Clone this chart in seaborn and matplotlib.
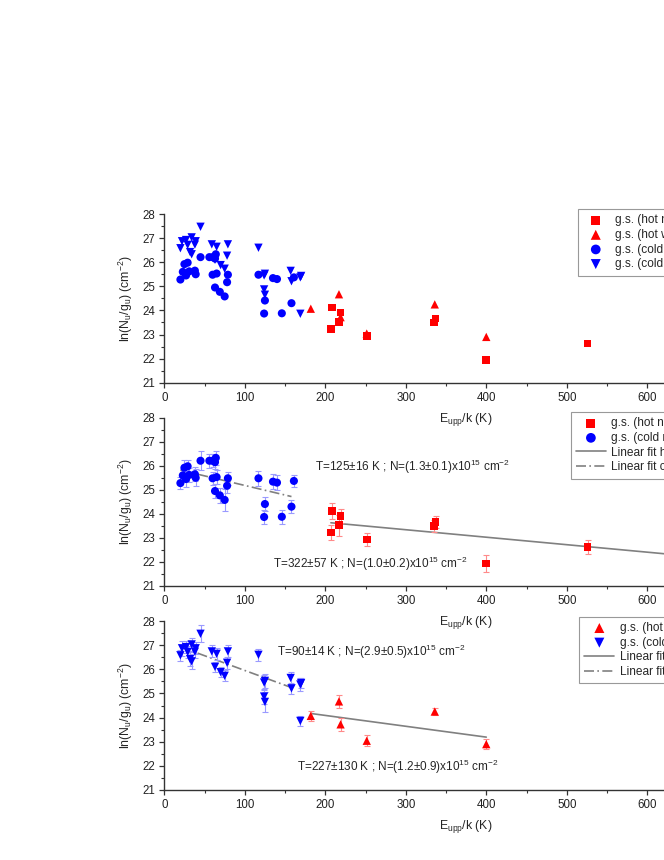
import numpy as np
import pandas as pd
import matplotlib
matplotlib.use("Agg")
import matplotlib.pyplot as plt
import seaborn as sns

# ------------------------------------------------------------
# Data
# ------------------------------------------------------------
# hot narrow component (red squares)
hot_sq_E = [208, 207, 219, 217, 251.7, 335, 337, 400, 526]
hot_sq_y = [24.12, 23.22, 23.91, 23.53, 22.93, 23.49, 23.67, 21.93, 22.63]
hot_sq_err = [0.33, 0.30, 0.28, 0.43, 0.28, 0.25, 0.25, 0.35, 0.30]

# hot wide component (red triangles up)
hot_tri_E = [182, 217, 219, 251.5, 336, 400]
hot_tri_y = [24.07, 24.67, 23.72, 23.04, 24.25, 22.90]
hot_tri_err = [0.20, 0.28, 0.28, 0.22, 0.15, 0.20]

# cold narrow component (blue circles)
cold_ci_E = [20, 23, 25, 29, 27, 31, 38, 39, 45, 56, 60, 63, 64, 60,
             65, 63, 69, 75, 78, 79, 117, 125, 124, 135, 140, 146, 158, 161]
cold_ci_y = [25.28, 25.60, 25.92, 25.98, 25.45, 25.62, 25.65, 25.50, 26.21,
             26.21, 26.21, 26.15, 26.33, 25.48, 25.53, 24.95, 24.77, 24.58,
             25.17, 25.48, 25.48, 24.41, 23.87, 25.34, 25.30, 23.88, 24.30, 25.37]
cold_ci_err = [0.25, 0.28, 0.30, 0.28, 0.35, 0.30, 0.30, 0.35, 0.40,
               0.30, 0.28, 0.30, 0.28, 0.28, 0.30, 0.30, 0.30, 0.45,
               0.30, 0.28, 0.30, 0.30, 0.30, 0.30, 0.32, 0.30, 0.28, 0.25]

# cold wide component (blue triangles down)
cold_tri_E = [20, 22, 27, 29, 32, 34, 34, 38, 39, 45, 59, 63, 65, 70, 75,
              78, 79, 117, 124, 125, 124, 125, 157, 158, 169, 170, 169]
cold_tri_y = [26.58, 26.87, 26.92, 26.72, 26.42, 26.33, 27.03, 26.73, 26.87,
              27.47, 26.74, 26.10, 26.64, 25.88, 25.73, 26.27, 26.74, 26.60,
              25.45, 25.52, 24.87, 24.65, 25.64, 25.21, 25.37, 25.43, 23.86]
cold_tri_err = [0.22, 0.30, 0.25, 0.25, 0.28, 0.30, 0.28, 0.25, 0.25,
                0.35, 0.25, 0.22, 0.25, 0.20, 0.22, 0.25, 0.25, 0.25,
                0.30, 0.28, 0.30, 0.40, 0.25, 0.22, 0.25, 0.22, 0.22]

# linear fits (end points)
fit_hot_sq_E = [207, 750]
fit_hot_sq_y = [23.63, 21.94]
fit_cold_ci_E = [20, 158]
fit_cold_ci_y = [25.82, 24.72]
fit_hot_tri_E = [182, 400]
fit_hot_tri_y = [24.17, 23.19]
fit_cold_tri_E = [20, 159]
fit_cold_tri_y = [26.93, 25.23]

lab_hot_sq = "g.s. (hot narrow)"
lab_hot_tri = "g.s. (hot wide)"
lab_cold_ci = "g.s. (cold narrow)"
lab_cold_tri = "g.s. (cold wide)"

txt_mid = ["T=125±16 K ; N=(1.3±0.1)x10$^{15}$ cm$^{-2}$",
           "T=322±57 K ; N=(1.0±0.2)x10$^{15}$ cm$^{-2}$"]
txt_bot = ["T=90±14 K ; N=(2.9±0.5)x10$^{15}$ cm$^{-2}$",
           "T=227±130 K ; N=(1.2±0.9)x10$^{15}$ cm$^{-2}$"]

RED = "#ff0000"
BLUE = "#0000ff"
LRED = "#ff8a8a"
LBLUE = "#9a9aff"
GRAY = "#808080"

# ------------------------------------------------------------
# Style
# ------------------------------------------------------------
sns.set_style("ticks")
plt.rcParams["font.family"] = ["Liberation Sans", "DejaVu Sans"]
plt.rcParams["mathtext.fontset"] = "custom"
plt.rcParams["mathtext.rm"] = "Liberation Sans"
plt.rcParams["mathtext.it"] = "Liberation Sans"
plt.rcParams["xtick.direction"] = "out"
plt.rcParams["ytick.direction"] = "out"

fig = plt.figure(figsize=(6.64, 8.60), dpi=100)

left = 164.3 / 664
width = (768 - 164.3) / 664
ax_top = fig.add_axes([left, 1 - 382.7 / 860, width, 168.7 / 860])
ax_mid = fig.add_axes([left, 1 - 586 / 860, width, 168.3 / 860])
ax_bot = fig.add_axes([left, 1 - 790 / 860, width, 169 / 860])
for a in (ax_top, ax_mid, ax_bot):
    a.set_facecolor("none")
ax_top.set_zorder(3)
ax_mid.set_zorder(2)
ax_bot.set_zorder(1)


def df(E, y):
    return pd.DataFrame({"E": E, "y": y})


def points(ax, E, y, err, marker, color, ecolor, size, label):
    if err is not None:
        ax.errorbar(E, y, yerr=err, fmt="none", ecolor=ecolor,
                    elinewidth=0.8, capsize=2.5, capthick=0.8, zorder=2)
    sns.scatterplot(data=df(E, y), x="E", y="y", ax=ax, marker=marker,
                    color=color, s=size, edgecolor="none", linewidth=0,
                    label=label, zorder=3)


def fitline(ax, E, y, ls, label):
    sns.lineplot(data=df(E, y), x="E", y="y", ax=ax, color=GRAY,
                 linewidth=1.2, linestyle=ls, label=label, zorder=1)


def style_axis(ax):
    ax.set_xlim(0, 750)
    ax.set_ylim(21, 28)
    ax.set_xticks(np.arange(0, 701, 100))
    ax.set_xticks(np.arange(50, 751, 100), minor=True)
    ax.set_yticks(np.arange(21, 29, 1))
    ax.set_yticks(np.arange(21.5, 28, 1), minor=True)
    for s in ["top", "right"]:
        ax.spines[s].set_visible(False)
    for s in ["left", "bottom"]:
        ax.spines[s].set_linewidth(1.0)
        ax.spines[s].set_color("#333333")
    ax.tick_params(which="major", length=3.5, width=0.9, labelsize=8.3,
                   pad=3, colors="#333333", labelcolor="#222222")
    ax.tick_params(which="minor", length=2.2, width=0.8, colors="#333333")
    ax.set_xlabel("E$_{upp}$/k (K)", fontsize=8.8, labelpad=5)
    ax.set_ylabel("ln(N$_u$/g$_u$) (cm$^{-2}$)", fontsize=8.8, labelpad=5)


def legend(ax, x, y, hl, htp):
    leg = ax.legend(loc="upper left", bbox_to_anchor=(x, y), borderaxespad=0,
                    fontsize=8.6, frameon=True, fancybox=False, framealpha=1,
                    edgecolor="#999999", handlelength=hl, handletextpad=htp,
                    labelspacing=0.22, borderpad=0.45, markerscale=1.2)
    leg.get_frame().set_linewidth(0.8)


# ------------------------------------------------------------
# TOP PANEL : all components
# ------------------------------------------------------------
points(ax_top, hot_sq_E, hot_sq_y, None, "s", RED, LRED, 30, lab_hot_sq)
points(ax_top, hot_tri_E, hot_tri_y, None, "^", RED, LRED, 36, lab_hot_tri)
points(ax_top, cold_ci_E, cold_ci_y, None, "o", BLUE, LBLUE, 34, lab_cold_ci)
points(ax_top, cold_tri_E, cold_tri_y, None, "v", BLUE, LBLUE, 36, lab_cold_tri)
style_axis(ax_top)
legend(ax_top, 0.685, 1.03, 2.1, 0.6)

# ------------------------------------------------------------
# MIDDLE PANEL : narrow components
# ------------------------------------------------------------
points(ax_mid, hot_sq_E, hot_sq_y, hot_sq_err, "s", RED, LRED, 30, lab_hot_sq)
points(ax_mid, cold_ci_E, cold_ci_y, cold_ci_err, "o", BLUE, LBLUE, 34, lab_cold_ci)
fitline(ax_mid, fit_hot_sq_E, fit_hot_sq_y, "-", "Linear fit hot narrow")
fitline(ax_mid, fit_cold_ci_E, fit_cold_ci_y, (0, (6, 2, 1, 2)), "Linear fit cold narrow")
style_axis(ax_mid)
ax_mid.text(187, 25.95, txt_mid[0], fontsize=8.5, va="center", ha="left")
ax_mid.text(135, 21.91, txt_mid[1], fontsize=8.5, va="center", ha="left")
legend(ax_mid, 0.673, 1.034, 2.5, 0.4)

# ------------------------------------------------------------
# BOTTOM PANEL : wide components
# ------------------------------------------------------------
points(ax_bot, hot_tri_E, hot_tri_y, hot_tri_err, "^", RED, LRED, 36, lab_hot_tri)
points(ax_bot, cold_tri_E, cold_tri_y, cold_tri_err, "v", BLUE, LBLUE, 36, lab_cold_tri)
fitline(ax_bot, fit_hot_tri_E, fit_hot_tri_y, "-", "Linear fit  hot wide")
fitline(ax_bot, fit_cold_tri_E, fit_cold_tri_y, (0, (6, 2, 1, 2)), "Linear fit  cold wide")
style_axis(ax_bot)
ax_bot.text(140, 26.73, txt_bot[0], fontsize=8.5, va="center", ha="left")
ax_bot.text(164.5, 21.96, txt_bot[1], fontsize=8.5, va="center", ha="left")
legend(ax_bot, 0.687, 1.025, 2.5, 0.5)

fig.savefig("out.png", dpi=100)
